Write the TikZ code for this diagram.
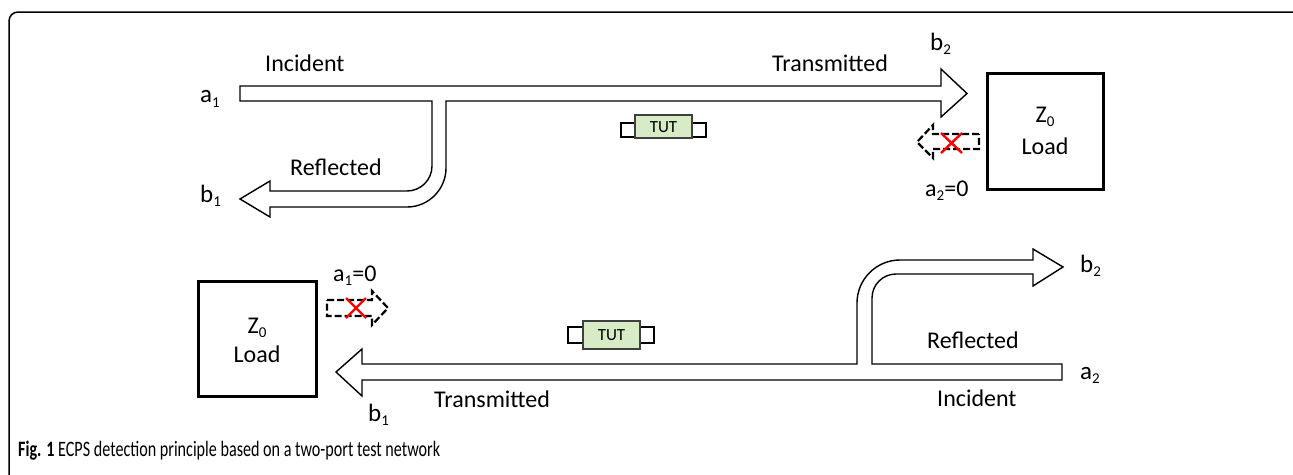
\documentclass[tikz,border=0pt]{standalone}
\usepackage{fontspec}
\usepackage{graphicx}
\setmainfont{Carlito}
\newcommand\lsub[1]{\raisebox{-4.5pt}{\fontsize{15}{15}\selectfont #1}}
\definecolor{tutgreen}{HTML}{D6EBC6}
\definecolor{tutedge}{HTML}{404040}
\tikzset{
  band/.style={draw=black, line width=1.4pt, fill=white, line join=miter},
  dasharrow/.style={draw=black, line width=2.2pt, dash pattern=on 7pt off 3pt, line join=miter},
  redx/.style={draw=red, line width=2.4pt},
  loadbox/.style={draw=black, line width=3pt},
  lbl/.style={font=\fontsize{24}{28}\selectfont, anchor=base west, inner sep=0pt},
  port/.style={font=\fontsize{25}{28}\selectfont, anchor=base west, inner sep=0pt},
  ctr/.style={font=\fontsize{24}{28}\selectfont, anchor=base, inner sep=0pt},
  tutbox/.style={draw=tutedge, line width=1.2pt, fill=tutgreen},
  sidebox/.style={draw=black, line width=1.2pt, fill=white},
  tuttext/.style={font=\fontsize{17}{20}\selectfont, inner sep=0pt},
}
\begin{document}
\begin{tikzpicture}[x=1pt,y=-1pt]
\useasboundingbox (0,0) rectangle (1293,474);
\begin{scope}
\clip (0,0) rectangle (1293,474);
\draw[line width=1.5pt, rounded corners=9pt] (9,12) rectangle (1310,500);
\end{scope}

% ---------- top diagram ----------
\draw[band] (240,86) -- (941,86) -- (941,69) -- (967,93.5) -- (941,117) -- (941,101)
  -- (446,101) -- (446,168) .. controls (446,189.5) and (428.5,207) .. (407,207)
  -- (270,207) -- (270,217) -- (240,199) -- (270,181) -- (270,191) -- (407,191)
  .. controls (420.8,191) and (432,179.8) .. (432,166) -- (432,101) -- (240,101) -- cycle;

\node[lbl] (inc1) at (265,71.7) {Incident};
\node[lbl] (tra1) at (772,71) {Transmitted};
\node[lbl] (ref1) at (290,175) {Reflected};
\node[port] (a1) at (200,102.5) {a\lsub{1}};
\node[port] (b1) at (200,202) {b\lsub{1}};
\node[port] (b2) at (930,50) {b\lsub{2}};

% TUT top
\draw[sidebox] (621,123) rectangle (635,137);
\draw[sidebox] (692,123) rectangle (706,137);
\draw[tutbox] (635,115) rectangle (692,138);
\node[tuttext] (tut1) at (663.5,127) {TUT};

% load top
\draw[loadbox] (987,73) rectangle (1103,189);
\node[ctr] (z1) at (1045,122) {Z\lsub{0}};
\node[ctr] (load1) at (1045,154) {Load};

% dashed arrow top
\draw[dasharrow] (979,134) -- (933,134) -- (933,125) -- (917,142) -- (933,158) -- (933,149) -- (979,149) -- cycle;
\draw[redx] (941,133) -- (962,153);
\draw[redx] (962,133) -- (941,153);
\node[lbl] (a2zero) at (925,196) {a\lsub{2}=0};

% ---------- bottom diagram ----------
\draw[band] (1062,364) -- (1062,380) -- (362,380) -- (362,396) -- (336,372) -- (362,349)
  -- (362,364) -- (857,364) -- (857,303) .. controls (857,279.3) and (876.3,260) .. (900,260)
  -- (1033,260) -- (1033,249) -- (1063,267) -- (1033,286) -- (1033,274) -- (896,274)
  .. controls (882.7,274) and (872,284.7) .. (872,298) -- (872,364) -- cycle;

\node[port] (b2b) at (1080,272) {b\lsub{2}};
\node[port] (a2b) at (1080,379) {a\lsub{2}};
\node[lbl] (ref2) at (927,348) {Reflected};
\node[lbl] (inc2) at (937,406) {Incident};
\node[lbl] (tra2) at (434,407) {Transmitted};
\node[port] (b1b) at (368,421) {b\lsub{1}};

% TUT bottom
\draw[sidebox] (568,327) rectangle (583,343);
\draw[sidebox] (640,327) rectangle (654,343);
\draw[tutbox] (583,321) rectangle (640,349);
\node[tuttext] (tut2) at (611.5,335) {TUT};

% load bottom
\draw[loadbox] (198,281) rectangle (316,396);
\node[ctr] (z2) at (257,333) {Z\lsub{0}};
\node[ctr] (load2) at (257,362) {Load};

% dashed arrow bottom
\draw[dasharrow] (327,300) -- (372,300) -- (372,291) -- (388,308) -- (372,325) -- (372,316) -- (327,316) -- cycle;
\draw[redx] (346,298) -- (366,318);
\draw[redx] (366,298) -- (346,318);
\node[lbl] (a1zero) at (333,281) {a\lsub{1}=0};

% caption
\node[anchor=base west, inner sep=0pt] (cap) at (18,456)
  {\resizebox{422pt}{\height}{\fontsize{22}{26}\selectfont\textbf{Fig. 1} ECPS detection principle based on a two-port test network}};
\end{tikzpicture}
\end{document}
